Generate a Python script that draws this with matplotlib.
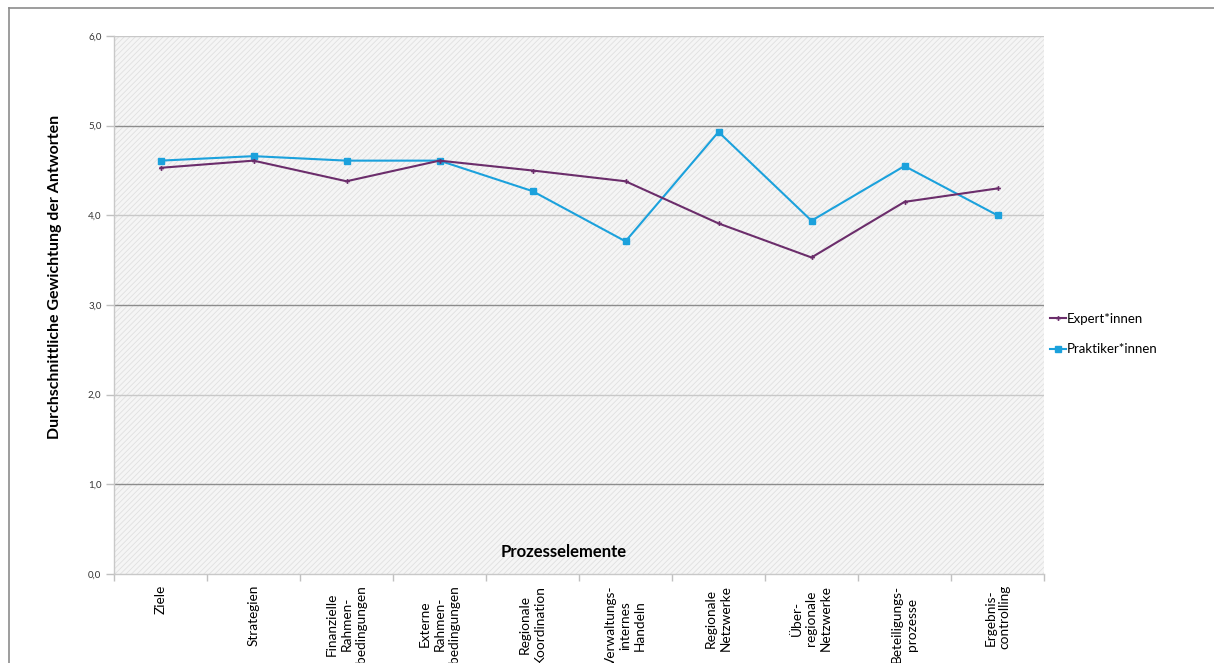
import matplotlib
matplotlib.use("Agg")
import matplotlib.pyplot as plt
from matplotlib.patches import Rectangle
from matplotlib.lines import Line2D

# Daten
kategorien = ["Ziele", "Strategien", "Finanzielle\nRahmen-\nbedingungen",
              "Externe\nRahmen-\nbedingungen", "Regionale\nKoordination",
              "Verwaltungs-\ninternes\nHandeln", "Regionale\nNetzwerke",
              "Über-\nregionale\nNetzwerke", "Beteiligungs-\nprozesse",
              "Ergebnis-\ncontrolling"]
experten = [4.53, 4.61, 4.38, 4.61, 4.50, 4.38, 3.91, 3.53, 4.15, 4.30]
praktiker = [4.61, 4.66, 4.61, 4.61, 4.27, 3.71, 4.93, 3.94, 4.55, 4.00]
y_ticks = [0, 1, 2, 3, 4, 5, 6]
y_labels = ["0,0", "1,0", "2,0", "3,0", "4,0", "5,0", "6,0"]

plt.rcParams['font.family'] = ['Lato', 'DejaVu Sans']
plt.rcParams['hatch.linewidth'] = 0.6

fig = plt.figure(figsize=(12.14, 6.63), dpi=100)
ax = fig.add_axes([114/1214, 1-574/663, 930/1214, 538/663])

# schraffierter Hintergrund
ax.patch.set_visible(False)
ax.add_patch(Rectangle((0, 0), 1, 1, transform=ax.transAxes, facecolor='#f5f5f5',
                       edgecolor='#e0e0e0', hatch='//////', lw=0, zorder=0))

x = range(len(kategorien))
lila = '#6b2d6b'
blau = '#1ba1dc'
ax.plot(x, praktiker, color=blau, lw=1.5, marker='s', ms=4.5, label='Praktiker*innen', zorder=3)
ax.plot(x, experten, color=lila, lw=1.5, marker='P', ms=3.5, mew=0, label='Expert*innen', zorder=4)

ax.set_xlim(-0.5, len(kategorien) - 0.5)
ax.set_ylim(0, 6)
ax.set_yticks(y_ticks)
ax.set_yticklabels(y_labels, fontsize=7, color='#333333')
for v in y_ticks[1:]:
    farbe = '#8c8c8c' if v % 2 == 1 else '#c8c8c8'
    ax.axhline(v, color=farbe, lw=1.0, zorder=1)

ax.set_xticks(list(x))
ax.set_xticklabels([])
ax.tick_params(axis='x', which='major', length=0)
ax.set_xticks([i - 0.5 for i in range(len(kategorien) + 1)], minor=True)
ax.tick_params(axis='x', which='minor', length=5, color='#c0c0c0', width=1)
ax.tick_params(axis='y', length=6, color='#c0c0c0', width=1, pad=3)

for s in ['top', 'right']:
    ax.spines[s].set_visible(False)
for s in ['left', 'bottom']:
    ax.spines[s].set_color('#c8c8c8')
    ax.spines[s].set_linewidth(1)

for i, k in enumerate(kategorien):
    ax.annotate(k, xy=(i, 0), xycoords='data', xytext=(0, -8), textcoords='offset points',
                rotation=90, ha='center', va='top', multialignment='center',
                fontsize=9.8, color='#000000', linespacing=1.25, annotation_clip=False)

fig.text(55/1214, 1-277/663, "Durchschnittliche Gewichtung der Antworten", rotation=90,
         ha='center', va='center', fontsize=11.5, fontweight='bold')
fig.text(564/1214, 1-552/663, "Prozesselemente", ha='center', va='center',
         fontsize=12, fontweight='bold')

handles = [Line2D([], [], color=lila, lw=1.5, marker='P', ms=3.5, mew=0),
           Line2D([], [], color=blau, lw=1.5, marker='s', ms=4.5)]
fig.legend(handles, ['Expert*innen', 'Praktiker*innen'], loc='center left',
           bbox_to_anchor=(1038/1214, 1-334/663), frameon=False, fontsize=9.5,
           handlelength=1.2, handletextpad=0.1, labelspacing=1.4)

# Rahmen
fig.add_artist(Line2D([9/1214, 9/1214], [0, 1-8/663], color='#8c8c8c', lw=1.2))
fig.add_artist(Line2D([9/1214, 1], [1-8/663, 1-8/663], color='#8c8c8c', lw=1.2))

fig.savefig('out.png', dpi=100)
